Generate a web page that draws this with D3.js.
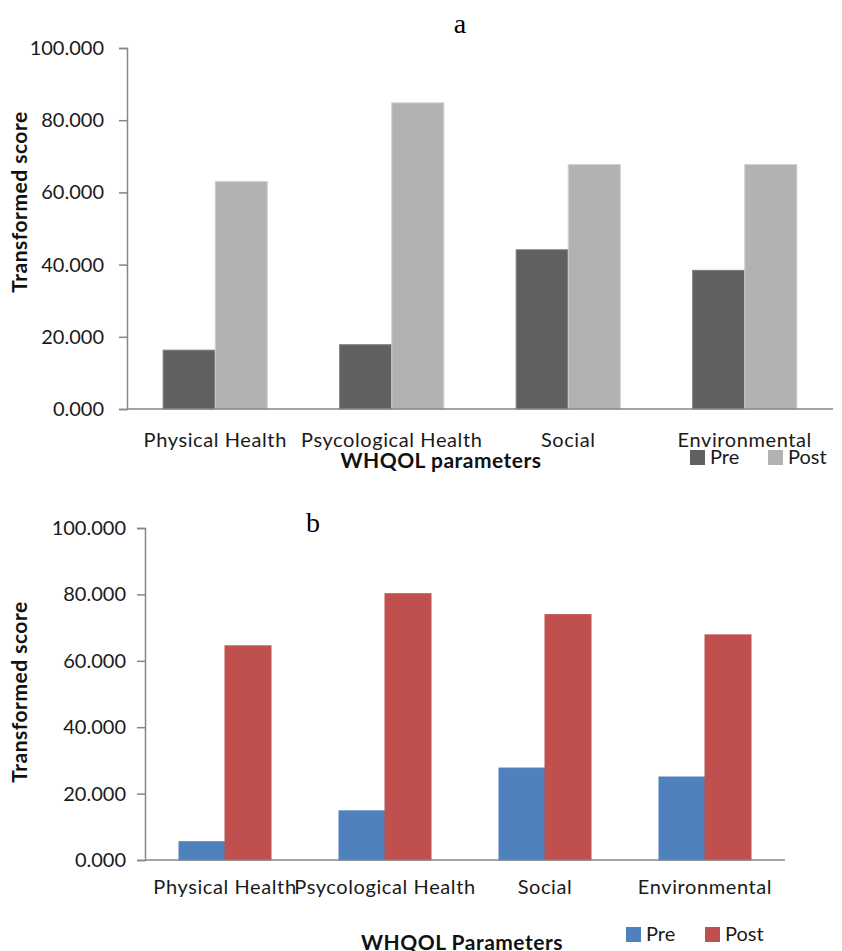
<!DOCTYPE html>
<html>
<head>
<meta charset="utf-8">
<script src="https://cdn.jsdelivr.net/npm/d3@7"></script>
<style>
  body { margin: 0; background: #fff; }
  svg text { font-family: Lato, "Noto Sans", sans-serif; }
</style>
</head>
<body>
<svg id="chart" width="842" height="951"></svg>
<script>
// data
var categories = ["Physical Health", "Psycological Health", "Social", "Environmental"];
var series = ["Pre", "Post"];
var preA = [16.3, 17.8, 44.1, 38.4];
var postA = [63.0, 84.8, 67.7, 67.7];
var preB = [5.5, 14.8, 27.7, 25.0];
var postB = [64.5, 80.2, 73.9, 67.8];
var yTicks = [0, 20, 40, 60, 80, 100];

var svg = d3.select("#chart");

function drawChart(opt) {
    var g = svg.append("g");

    var x = d3.scaleBand()
        .domain(categories)
        .range([opt.left, opt.right])
        .paddingInner(opt.pad)
        .paddingOuter(opt.pad / 2);

    var x1 = d3.scaleBand()
        .domain(series)
        .range([0, x.bandwidth()]);

    var y = d3.scaleLinear()
        .domain([0, 100])
        .range([opt.bottom, opt.top]);

    var rows = categories.map(function (c, i) {
        return { cat: c, Pre: opt.pre[i], Post: opt.post[i] };
    });

    // bars
    g.append("g")
        .selectAll("g")
        .data(rows)
        .enter().append("g")
        .attr("transform", function (d) { return "translate(" + x(d.cat) + ",0)"; })
        .selectAll("rect")
        .data(function (d) { return series.map(function (s) { return { key: s, value: d[s] }; }); })
        .enter().append("rect")
        .attr("x", function (d) { return x1(d.key); })
        .attr("y", function (d) { return y(d.value); })
        .attr("width", x1.bandwidth())
        .attr("height", function (d) { return opt.bottom - y(d.value); })
        .attr("fill", function (d) { return opt.colors[d.key]; })
        .attr("stroke", function (d) { return opt.strokes[d.key]; })
        .attr("stroke-width", 1);

    // y axis
    var yAxis = g.append("g")
        .attr("transform", "translate(" + opt.left + ",0)")
        .call(d3.axisLeft(y).tickValues(yTicks).tickSize(8).tickPadding(opt.tickPad)
            .tickFormat(d3.format(".3f")));
    yAxis.select(".domain").attr("stroke", "#868686").attr("stroke-width", 1.5);
    yAxis.selectAll(".tick line").attr("stroke", "#868686").attr("stroke-width", 1.5);
    yAxis.selectAll(".tick text")
        .attr("font-size", 20)
        .attr("fill", "#1a1a1a")
        .style("font-family", "Lato, sans-serif");

    // x axis line
    var xAxis = g.append("g")
        .attr("transform", "translate(0," + opt.bottom + ")")
        .call(d3.axisBottom(x).tickSize(0).tickPadding(opt.labelPad));
    xAxis.select(".domain").attr("stroke", "#868686").attr("stroke-width", 1.5)
        .attr("d", "M" + opt.left + ",0H" + opt.right);
    xAxis.selectAll(".tick text")
        .attr("font-size", 20)
        .attr("letter-spacing", 0.6)
        .attr("fill", "#1a1a1a")
        .style("font-family", "Lato, sans-serif");

    // axis titles
    g.append("text")
        .attr("transform", "translate(" + opt.yTitleX + "," + opt.yTitleY + ") rotate(-90)")
        .attr("text-anchor", "middle")
        .attr("dy", "0.35em")
        .attr("font-size", 21)
        .attr("letter-spacing", 0.5)
        .attr("font-weight", "bold")
        .attr("fill", "#111")
        .text("Transformed score");

    g.append("text")
        .attr("x", opt.xTitleX)
        .attr("y", opt.xTitleY)
        .attr("text-anchor", "middle")
        .attr("font-size", 21)
        .attr("letter-spacing", 0.5)
        .attr("font-weight", "bold")
        .attr("fill", "#111")
        .text(opt.xTitle);

    // panel letter
    g.append("text")
        .attr("x", opt.letterX)
        .attr("y", opt.letterY)
        .attr("text-anchor", "middle")
        .attr("font-size", 28)
        .style("font-family", "'Liberation Serif', 'DejaVu Serif', serif")
        .attr("fill", "#000")
        .text(opt.letter);

    // legend
    var leg = g.append("g")
        .selectAll("g")
        .data(series)
        .enter().append("g")
        .attr("transform", function (d, i) { return "translate(" + opt.legendX[i] + "," + opt.legendY + ")"; });
    leg.append("rect")
        .attr("width", 15).attr("height", 15)
        .attr("y", -14)
        .attr("fill", function (d) { return opt.colors[d]; });
    leg.append("text")
        .attr("x", 20)
        .attr("font-size", 20)
        .attr("fill", "#1a1a1a")
        .text(function (d) { return d; });
}

drawChart({
    pre: preA, post: postA,
    left: 127, right: 833, top: 48, bottom: 409, pad: 0.41,
    colors: { Pre: "#606060", Post: "#b2b2b2" },
    strokes: { Pre: "#7a7a7a", Post: "#d0d0d0" },
    tickPad: 15, labelPad: 24,
    yTitleX: 20, yTitleY: 202,
    xTitle: "WHQOL parameters", xTitleX: 441, xTitleY: 468,
    letter: "a", letterX: 460, letterY: 33,
    legendX: [690, 768], legendY: 464
});

drawChart({
    pre: preB, post: postB,
    left: 145, right: 785, top: 528, bottom: 860, pad: 0.425,
    colors: { Pre: "#4f81bd", Post: "#c0504d" },
    strokes: { Pre: "#4f81bd", Post: "#c0504d" },
    tickPad: 11, labelPad: 20,
    yTitleX: 20, yTitleY: 692,
    xTitle: "WHQOL Parameters", xTitleX: 462, xTitleY: 950,
    letter: "b", letterX: 313, letterY: 532,
    legendX: [626, 705], legendY: 941
});
</script>
</body>
</html>
